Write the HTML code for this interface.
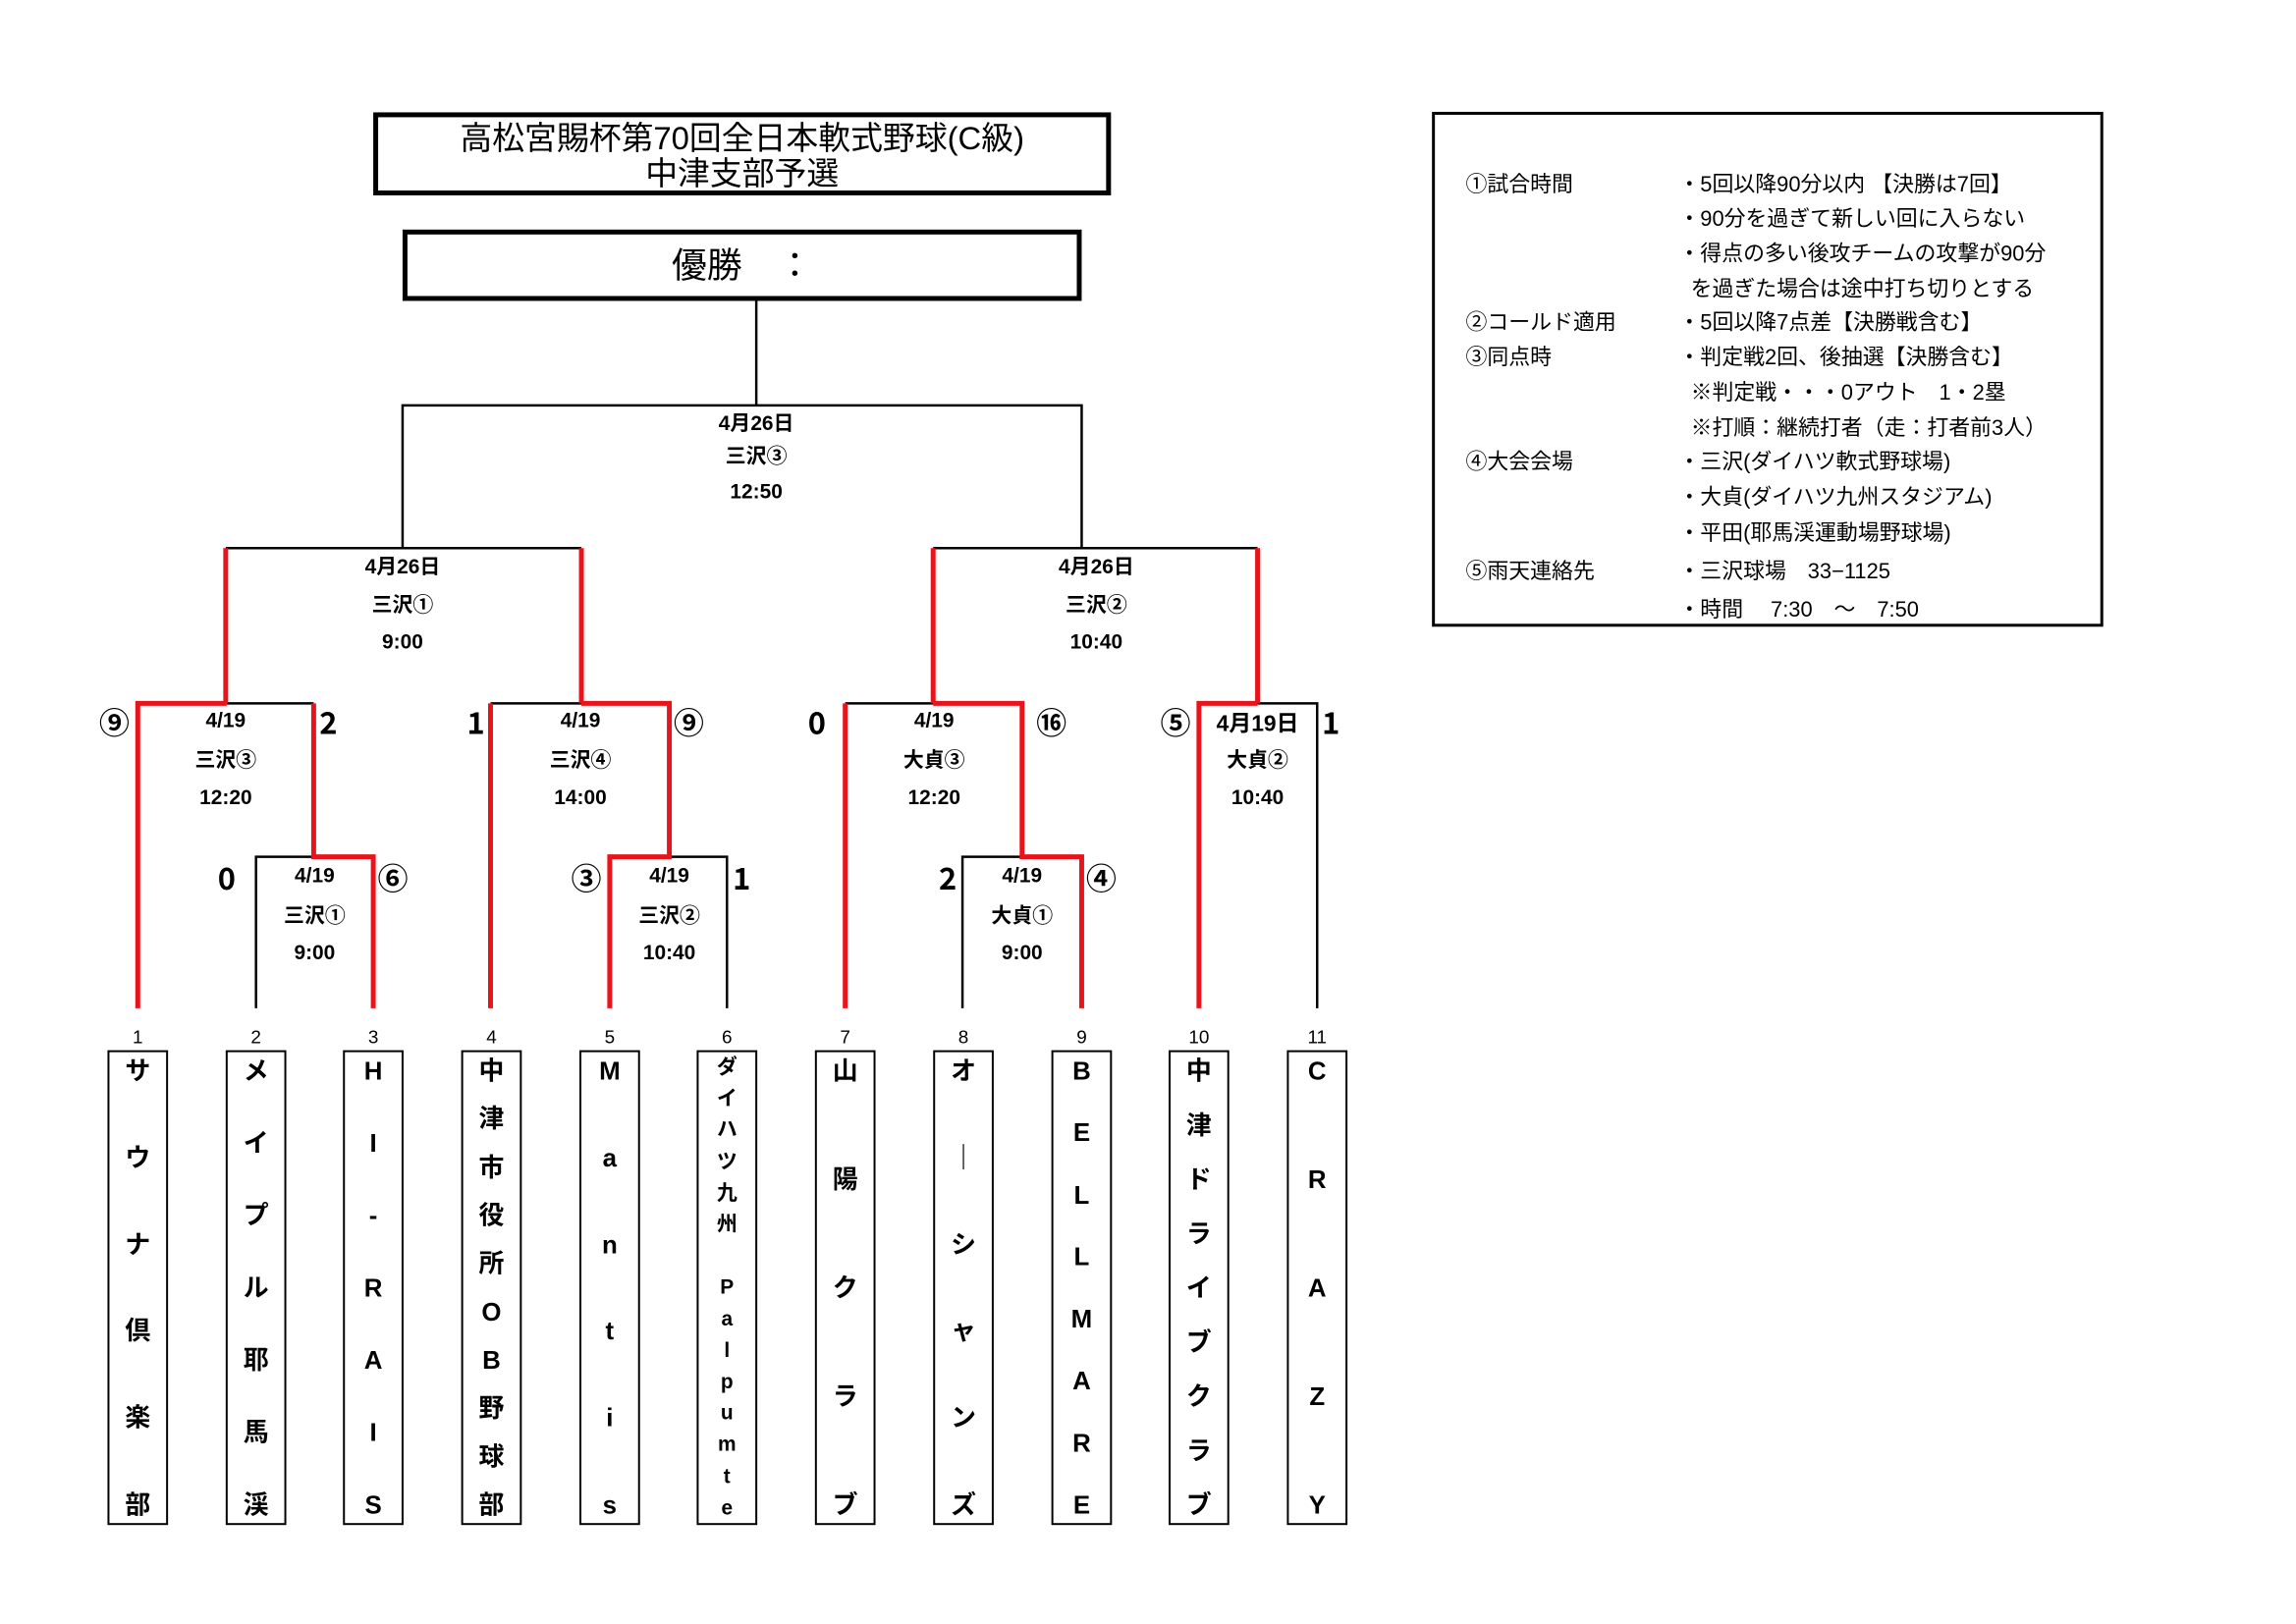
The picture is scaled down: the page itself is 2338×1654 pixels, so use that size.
<!DOCTYPE html>
<html><head><meta charset="utf-8"><style>
body{margin:0;background:#fff;}
#w{width:2338px;height:1654px;overflow:hidden;position:relative;}
#p{position:absolute;left:0;top:0;width:2338px;height:1654px;transform:scale(0.995);transform-origin:0 0;font-family:"Liberation Sans","Noto Sans CJK JP",sans-serif;color:#000;}
.t{position:absolute;transform:translate(-50%,-50%);white-space:nowrap;font-weight:bold;font-size:21px;}
.s{position:absolute;transform:translate(-50%,-50%);white-space:nowrap;font-weight:bold;font-size:31px;font-family:"Noto Sans CJK JP",sans-serif;}
.n{position:absolute;transform:translate(-50%,-50%);font-size:19px;}
.box{position:absolute;top:1075px;width:62px;height:486px;border:2.5px solid #000;display:flex;flex-direction:column;justify-content:space-between;align-items:center;font-weight:bold;font-size:26px;line-height:30px;padding:4px 0;box-sizing:border-box;}
.box.sm{font-size:21px;line-height:23px;}
.lg{position:absolute;font-size:22px;white-space:nowrap;}
</style></head><body><div id="w"><div id="p">
<div style="position:absolute;left:382px;top:115px;width:755px;height:85px;border:5px solid #000;box-sizing:border-box;text-align:center;font-size:33px;line-height:36px;padding-top:4px;">高松宮賜杯第70回全日本軟式野球(C級)<br>中津支部予選</div>
<div style="position:absolute;left:412px;top:235px;width:695px;height:73px;border:5px solid #000;box-sizing:border-box;text-align:center;font-size:36px;line-height:63px;">優勝　：</div>
<svg width="2338" height="1654" style="position:absolute;left:0;top:0">
<g stroke="#000" stroke-width="2.5" fill="none">
<line x1="774" y1="308" x2="774" y2="415"/>
<polyline points="412,561 412,415 1107,415 1107,561"/>
<line x1="231" y1="561" x2="595" y2="561"/>
<line x1="955" y1="561" x2="1287" y2="561"/>
<line x1="232" y1="720" x2="321" y2="720"/>
<polyline points="262,1032 262,877 321,877"/>
<line x1="502" y1="720" x2="595" y2="720"/>
<polyline points="685,877 744,877 744,1032"/>
<line x1="865" y1="720" x2="955" y2="720"/>
<polyline points="985,1032 985,877 1046,877"/>
<polyline points="1287,720 1348,720 1348,1032"/>
</g>
<g stroke="#e8141c" stroke-width="5" fill="none">
<line x1="231" y1="561" x2="231" y2="720"/>
<line x1="595" y1="561" x2="595" y2="720"/>
<line x1="955" y1="561" x2="955" y2="720"/>
<line x1="1287" y1="561" x2="1287" y2="720"/>
<polyline points="141,1032 141,720 232,720"/>
<polyline points="321,720 321,877 382,877 382,1032"/>
<line x1="502" y1="720" x2="502" y2="1032"/>
<polyline points="595,720 685,720 685,877 624,877 624,1032"/>
<line x1="865" y1="720" x2="865" y2="1032"/>
<polyline points="955,720 1046,720 1046,877 1107,877 1107,1032"/>
<polyline points="1227,1032 1227,720 1287,720"/>
</g>
<rect x="1467" y="116" width="684" height="524" fill="none" stroke="#000" stroke-width="3"/>
</svg>
<div class="t" style="left:774px;top:432px">4月26日</div><div class="t" style="left:774px;top:466px">三沢③</div><div class="t" style="left:774px;top:504px">12:50</div>
<div class="t" style="left:412px;top:579px">4月26日</div><div class="t" style="left:412px;top:618px">三沢①</div><div class="t" style="left:412px;top:658px">9:00</div>
<div class="t" style="left:1122px;top:579px">4月26日</div><div class="t" style="left:1122px;top:618px">三沢②</div><div class="t" style="left:1122px;top:658px">10:40</div>
<div class="t" style="left:231px;top:738px">4/19</div><div class="t" style="left:231px;top:777px">三沢③</div><div class="t" style="left:231px;top:817px">12:20</div>
<div class="t" style="left:322px;top:897px">4/19</div><div class="t" style="left:322px;top:936px">三沢①</div><div class="t" style="left:322px;top:976px">9:00</div>
<div class="t" style="left:594px;top:738px">4/19</div><div class="t" style="left:594px;top:777px">三沢④</div><div class="t" style="left:594px;top:817px">14:00</div>
<div class="t" style="left:685px;top:897px">4/19</div><div class="t" style="left:685px;top:936px">三沢②</div><div class="t" style="left:685px;top:976px">10:40</div>
<div class="t" style="left:956px;top:738px">4/19</div><div class="t" style="left:956px;top:777px">大貞③</div><div class="t" style="left:956px;top:817px">12:20</div>
<div class="t" style="left:1046px;top:897px">4/19</div><div class="t" style="left:1046px;top:936px">大貞①</div><div class="t" style="left:1046px;top:976px">9:00</div>
<div class="t" style="left:1287px;top:738px;font-size:23px">4月19日</div><div class="t" style="left:1287px;top:777px">大貞②</div><div class="t" style="left:1287px;top:817px">10:40</div>
<div class="s" style="left:117px;top:738px">⑨</div><div class="s" style="left:336px;top:738px">2</div>
<div class="s" style="left:232px;top:897px">0</div><div class="s" style="left:402px;top:897px">⑥</div>
<div class="s" style="left:487px;top:738px">1</div><div class="s" style="left:705px;top:738px">⑨</div>
<div class="s" style="left:600px;top:897px">③</div><div class="s" style="left:759px;top:897px">1</div>
<div class="s" style="left:836px;top:738px">0</div><div class="s" style="left:1076px;top:738px">⑯</div>
<div class="s" style="left:970px;top:897px">2</div><div class="s" style="left:1127px;top:897px">④</div>
<div class="s" style="left:1203px;top:738px">⑤</div><div class="s" style="left:1362px;top:738px">1</div>
<div class="n" style="left:141px;top:1063px">1</div><div class="n" style="left:262px;top:1063px">2</div><div class="n" style="left:382px;top:1063px">3</div><div class="n" style="left:503px;top:1063px">4</div><div class="n" style="left:624px;top:1063px">5</div><div class="n" style="left:744px;top:1063px">6</div><div class="n" style="left:865px;top:1063px">7</div><div class="n" style="left:986px;top:1063px">8</div><div class="n" style="left:1107px;top:1063px">9</div><div class="n" style="left:1227px;top:1063px">10</div><div class="n" style="left:1348px;top:1063px">11</div>
<div class="box" style="left:110px"><span>サ</span><span>ウ</span><span>ナ</span><span>倶</span><span>楽</span><span>部</span></div>
<div class="box" style="left:231px"><span>メ</span><span>イ</span><span>プ</span><span>ル</span><span>耶</span><span>馬</span><span>渓</span></div>
<div class="box" style="left:351px"><span>H</span><span>I</span><span>-</span><span>R</span><span>A</span><span>I</span><span>S</span></div>
<div class="box" style="left:472px"><span>中</span><span>津</span><span>市</span><span>役</span><span>所</span><span>O</span><span>B</span><span>野</span><span>球</span><span>部</span></div>
<div class="box" style="left:593px"><span>M</span><span>a</span><span>n</span><span>t</span><span>i</span><span>s</span></div>
<div class="box sm" style="left:713px"><span>ダ</span><span>イ</span><span>ハ</span><span>ツ</span><span>九</span><span>州</span><span>&nbsp;</span><span>P</span><span>a</span><span>l</span><span>p</span><span>u</span><span>m</span><span>t</span><span>e</span></div>
<div class="box" style="left:834px"><span>山</span><span>陽</span><span>ク</span><span>ラ</span><span>ブ</span></div>
<div class="box" style="left:955px"><span>オ</span><span>｜</span><span>シ</span><span>ャ</span><span>ン</span><span>ズ</span></div>
<div class="box" style="left:1076px"><span>B</span><span>E</span><span>L</span><span>L</span><span>M</span><span>A</span><span>R</span><span>E</span></div>
<div class="box" style="left:1196px"><span>中</span><span>津</span><span>ド</span><span>ラ</span><span>イ</span><span>ブ</span><span>ク</span><span>ラ</span><span>ブ</span></div>
<div class="box" style="left:1317px"><span>C</span><span>R</span><span>A</span><span>Z</span><span>Y</span></div>
<div class="lg" style="left:1500px;top:171px">①試合時間</div><div class="lg" style="left:1718px;top:171px">・5回以降90分以内 【決勝は7回】</div>
<div class="lg" style="left:1718px;top:206px">・90分を過ぎて新しい回に入らない</div>
<div class="lg" style="left:1718px;top:242px">・得点の多い後攻チームの攻撃が90分</div>
<div class="lg" style="left:1718px;top:278px">&nbsp;&nbsp;を過ぎた場合は途中打ち切りとする</div>
<div class="lg" style="left:1500px;top:312px">②コールド適用</div><div class="lg" style="left:1718px;top:312px">・5回以降7点差【決勝戦含む】</div>
<div class="lg" style="left:1500px;top:348px">③同点時</div><div class="lg" style="left:1718px;top:348px">・判定戦2回、後抽選【決勝含む】</div>
<div class="lg" style="left:1718px;top:384px">&nbsp;&nbsp;※判定戦・・・0アウト　1・2塁</div>
<div class="lg" style="left:1718px;top:420px">&nbsp;&nbsp;※打順：継続打者（走：打者前3人）</div>
<div class="lg" style="left:1500px;top:455px">④大会会場</div><div class="lg" style="left:1718px;top:455px">・三沢(ダイハツ軟式野球場)</div>
<div class="lg" style="left:1718px;top:491px">・大貞(ダイハツ九州スタジアム)</div>
<div class="lg" style="left:1718px;top:528px">・平田(耶馬渓運動場野球場)</div>
<div class="lg" style="left:1500px;top:567px">⑤雨天連絡先</div><div class="lg" style="left:1718px;top:567px">・三沢球場　33−1125</div>
<div class="lg" style="left:1718px;top:606px">・時間　 7:30　〜　7:50</div>
</div></div></body></html>
